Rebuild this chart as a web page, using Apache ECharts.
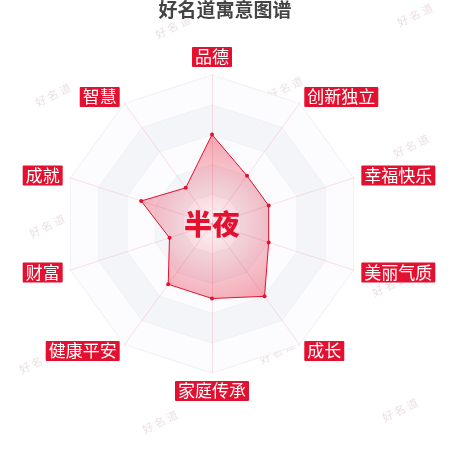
<!DOCTYPE html>
<html>
<head>
<meta charset="utf-8">
<script src="https://cdn.jsdelivr.net/npm/echarts@6/dist/echarts.min.js"></script>
<style>
  html, body { margin: 0; padding: 0; background: #fff; }
  #chart { width: 450px; height: 450px; }
</style>
</head>
<body>
<div id="chart"></div>
<script>
// Categories in ECharts radar order (counter-clockwise from the top)
const categories = ['品德', '智慧', '成就', '财富', '健康平安', '家庭传承', '成长', '美丽气质', '幸福快乐', '创新独立'];
const values = [60, 30, 50, 30, 50, 50, 60, 40, 40, 40];
const maxValue = 100;
const titleText = '好名道寓意图谱';
const centerName = '半夜';
const watermarkText = '好 名 道';

const RED = '#e3102f';
const FONT = '"Noto Sans CJK SC", "Noto Sans", sans-serif';

const chart = echarts.init(document.getElementById('chart'), null, { renderer: 'canvas' });

const watermarkSpots = [
  [173, 27], [415, 15], [53, 95], [285, 88], [411, 146], [170, 156],
  [47, 226], [290, 222], [157, 297], [390, 285], [37, 362], [277, 352],
  [160, 422], [400, 410]
];

const graphics = watermarkSpots.map(function (p) {
  return {
    type: 'text',
    x: p[0], y: p[1],
    rotation: 0.45,
    z: 0,
    silent: true,
    style: {
      text: watermarkText,
      font: '11px ' + FONT,
      fill: 'rgba(200,160,170,0.35)',
      align: 'center',
      verticalAlign: 'middle'
    }
  };
});
graphics.push({
  type: 'text',
  x: 212, y: 224,
  z: 100,
  silent: true,
  style: {
    text: centerName,
    font: '900 28px ' + FONT,
    fill: RED,
    align: 'center',
    verticalAlign: 'middle'
  }
});

chart.setOption({
  backgroundColor: '#fff',
  animation: false,
  title: {
    text: titleText,
    left: 'center',
    top: 0,
    padding: [0, 0],
    textStyle: {
      fontFamily: FONT,
      fontSize: 19,
      fontWeight: 'bold',
      color: '#444',
      textShadowColor: 'rgba(227,16,47,0.25)',
      textShadowOffsetX: 1,
      textShadowOffsetY: 1,
      textShadowBlur: 0
    }
  },
  graphic: graphics,
  radar: {
    center: [212, 224],
    radius: 149,
    startAngle: 90,
    splitNumber: 5,
    shape: 'polygon',
    nameGap: 8,
    indicator: categories.map(function (c) { return { name: c, max: maxValue }; }),
    axisName: {
      color: '#fff',
      backgroundColor: RED,
      fontFamily: FONT,
      fontSize: 17,
      lineHeight: 18,
      padding: [1, 3],
      borderRadius: 1
    },
    splitArea: {
      show: true,
      areaStyle: { color: ['#fcfcfe', '#f4f5f9', '#fcfcfe', '#f4f5f9', '#fcfcfe'] }
    },
    splitLine: {
      lineStyle: { color: '#f0f0f5', width: 1 }
    },
    axisLine: {
      lineStyle: { color: 'rgba(227,16,47,0.12)', width: 1 }
    }
  },
  series: [{
    type: 'radar',
    z: 5,
    symbol: 'circle',
    symbolSize: 4,
    lineStyle: { color: RED, width: 1 },
    itemStyle: { color: RED },
    areaStyle: {
      color: new echarts.graphic.RadialGradient(212, 224, 92, [
        { offset: 0, color: 'rgba(227,16,47,0.05)' },
        { offset: 1, color: 'rgba(227,16,47,0.55)' }
      ], true)
    },
    data: [{ value: values, name: centerName }]
  }]
});
</script>
</body>
</html>
